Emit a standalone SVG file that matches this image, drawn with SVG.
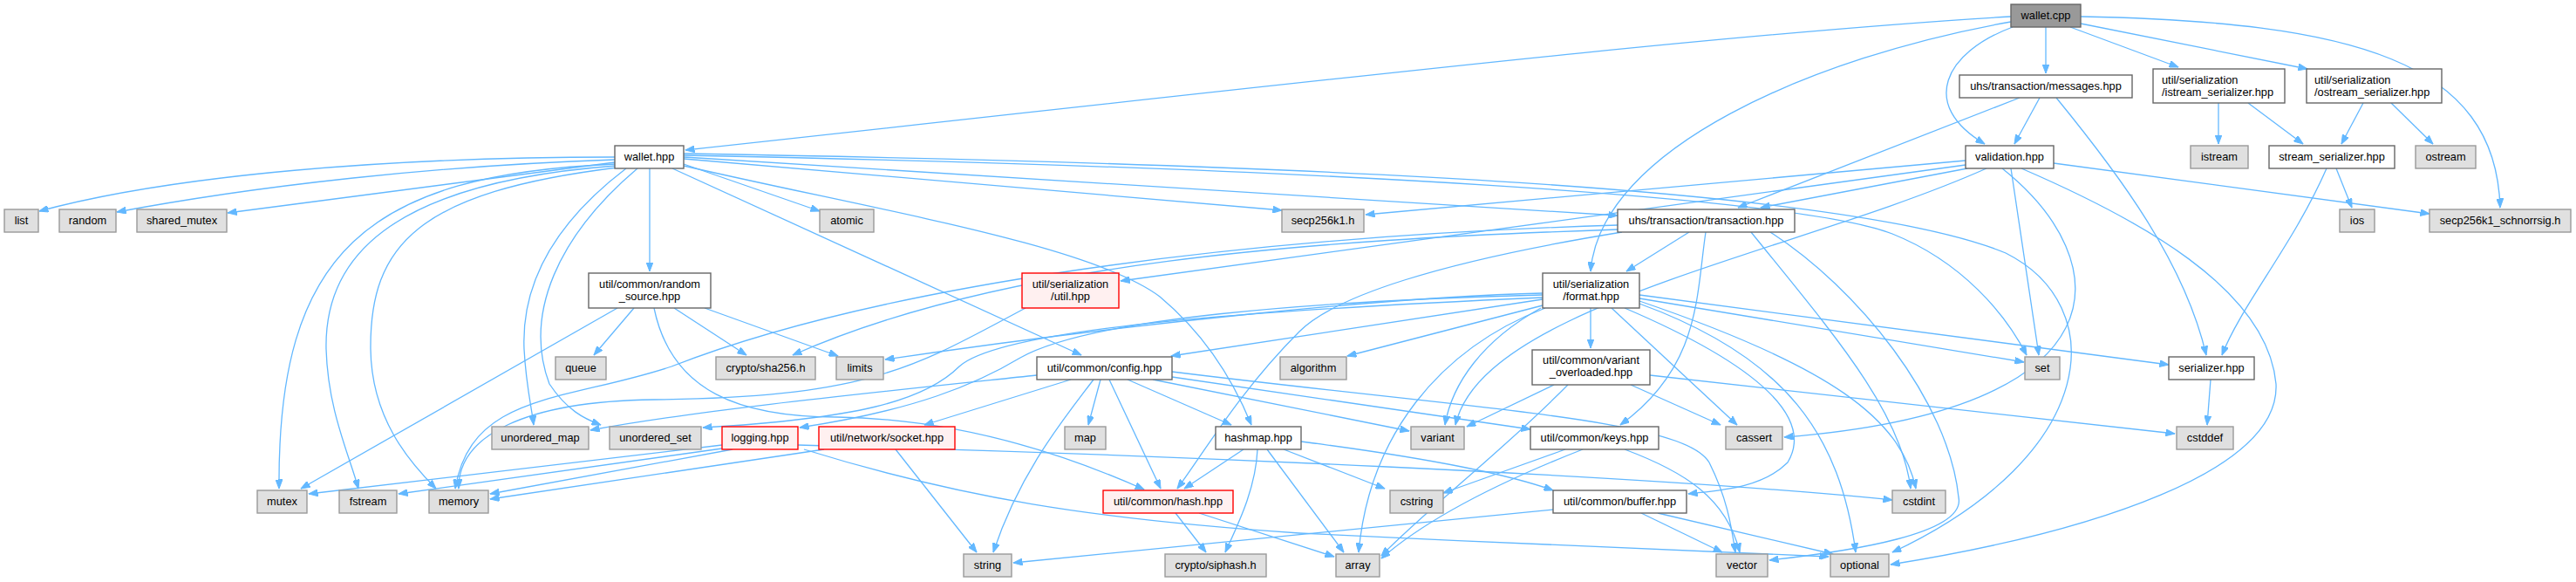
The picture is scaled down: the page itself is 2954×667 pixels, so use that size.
<svg xmlns="http://www.w3.org/2000/svg" width="2954" height="667" viewBox="0 0 2954 667">
<style>
text{font-family:"Liberation Sans",Arial,sans-serif;font-size:12.8px;fill:#000}
.c{text-anchor:middle}
.n rect{fill:#fff;stroke:#666;stroke-width:1.4}
.g rect{fill:#e0e0e0;stroke:#999;stroke-width:1.4}
.r rect{fill:#fff0f0;stroke:#f00;stroke-width:1.4}
.root rect{fill:#999;stroke:#666;stroke-width:1.4}
#edges path{fill:none;stroke:#63b8ff;stroke-width:1.3;marker-end:url(#a)}
</style>
<defs>
<marker id="a" markerWidth="11" markerHeight="8" refX="10.5" refY="4" orient="auto" markerUnits="userSpaceOnUse"><path d="M0,0 L10.5,4 L0,8 z" fill="#63b8ff" stroke="#63b8ff" stroke-width="1"/></marker>
</defs>
<rect width="2954" height="667" fill="#fff"/>
<g id="edges">
<path d="M2306,19 C1950,40 1450,100 786,172"/>
<path d="M2306,25 C2080,65 1835,170 1824,311"/>
<path d="M2346,31 L2346,84"/>
<path d="M2308,31 C2230,60 2200,120 2276,165"/>
<path d="M2374,31 L2498,77"/>
<path d="M2386,27 L2646,79"/>
<path d="M2386,19 C2700,25 2862,70 2867,238"/>
<path d="M2316,112 L1993,238"/>
<path d="M2339,112 L2310,165"/>
<path d="M2358,112 C2430,200 2505,300 2530,407"/>
<path d="M2544,118 L2544,165"/>
<path d="M2578,118 L2641,165"/>
<path d="M2710,118 L2685,165"/>
<path d="M2742,118 L2790,165"/>
<path d="M2679,193 L2697,238"/>
<path d="M2668,193 C2630,280 2570,350 2548,407"/>
<path d="M2535,435 L2531,487"/>
<path d="M2355,187 L2786,245"/>
<path d="M2256,193 L2019,238"/>
<path d="M2254,184 L1566,246"/>
<path d="M2254,189 L1285,322"/>
<path d="M2306,193 L2338,407"/>
<path d="M2278,193 C2060,290 1700,350 1669,487"/>
<path d="M2296,193 C2430,300 2440,470 2046,501"/>
<path d="M2318,193 C2450,250 2600,330 2610,440 C2615,540 2400,610 2168,647"/>
<path d="M705,180 C450,180 200,200 45,242"/>
<path d="M705,183 C500,190 300,212 134,243"/>
<path d="M705,186 L261,244"/>
<path d="M706,188 C420,200 318,290 320,560"/>
<path d="M706,190 C440,210 372,300 374,400 C376,470 400,520 411,560"/>
<path d="M708,192 C480,220 424,280 425,400 C426,480 470,530 500,560"/>
<path d="M718,193 C630,260 598,330 601,400 C603,440 610,470 612,487"/>
<path d="M731,193 C640,270 600,360 630,440 C650,470 670,480 689,487"/>
<path d="M745,193 L745,311"/>
<path d="M784,188 L940,242"/>
<path d="M771,193 L1240,407"/>
<path d="M784,190 C1000,240 1250,280 1330,340 C1390,390 1420,450 1435,487"/>
<path d="M784,182 L1470,241"/>
<path d="M784,180 L1855,247"/>
<path d="M784,178 C1500,192 2060,225 2170,268 C2250,300 2300,360 2324,407"/>
<path d="M784,176 C1500,188 2120,215 2300,290 C2420,350 2410,520 2170,633"/>
<path d="M708,353 L345,560"/>
<path d="M727,353 L681,407"/>
<path d="M773,353 L856,407"/>
<path d="M808,353 L961,408"/>
<path d="M750,353 C770,450 850,478 960,478 C1100,480 1220,520 1312,561"/>
<path d="M1176,353 C1050,420 1000,455 750,458 C600,460 525,500 526,560"/>
<path d="M1855,258 C1400,272 1000,330 770,420 C650,460 540,450 522,560"/>
<path d="M1855,263 C1500,275 1150,300 909,407"/>
<path d="M1937,266 L1865,311"/>
<path d="M1956,266 C1945,340 1950,420 1858,487"/>
<path d="M1860,266 C1650,300 1530,340 1490,380 C1420,450 1380,520 1350,560"/>
<path d="M2008,266 C2100,380 2180,470 2191,560"/>
<path d="M2030,266 C2130,330 2235,460 2246,570 C2255,612 2120,632 2029,642"/>
<path d="M1769,336 C1600,340 1300,370 1015,412"/>
<path d="M1769,343 L1343,408"/>
<path d="M1769,350 L1545,408"/>
<path d="M1769,338 C1500,345 1250,365 1170,410 C1120,440 1050,470 917,490"/>
<path d="M1769,341 C1450,355 1150,375 1100,420 C1060,460 980,480 806,490"/>
<path d="M1824,353 L1824,399"/>
<path d="M1767,353 C1700,390 1665,440 1657,487"/>
<path d="M1772,353 C1650,400 1570,500 1558,633"/>
<path d="M1848,353 L1992,487"/>
<path d="M1863,353 C2020,420 2080,480 2050,530 C2020,560 1970,562 1936,566"/>
<path d="M1880,348 C2050,410 2110,500 2128,633"/>
<path d="M1880,345 C2100,420 2180,480 2197,560"/>
<path d="M1880,342 L2321,415"/>
<path d="M1880,338 L2487,418"/>
<path d="M1189,430 C1000,450 800,470 677,493"/>
<path d="M1228,435 L1060,487"/>
<path d="M1254,435 C1220,480 1170,540 1139,633"/>
<path d="M1262,435 L1248,487"/>
<path d="M1272,435 L1331,560"/>
<path d="M1293,435 L1412,487"/>
<path d="M1322,435 L1616,494"/>
<path d="M1344,432 L1755,492"/>
<path d="M1344,426 C1700,470 1930,480 1960,530 C1980,570 1985,600 1990,633"/>
<path d="M828,510 L354,566"/>
<path d="M828,514 L457,566"/>
<path d="M840,515 L562,566"/>
<path d="M915,510 C1300,520 1900,545 2170,573"/>
<path d="M922,515 C1100,570 1250,595 1490,611 C1700,622 1950,630 2097,638"/>
<path d="M945,515 L562,572"/>
<path d="M1027,515 L1120,633"/>
<path d="M1426,515 L1358,560"/>
<path d="M1442,515 C1440,560 1420,600 1405,633"/>
<path d="M1453,515 L1541,633"/>
<path d="M1472,515 L1588,560"/>
<path d="M1492,506 C1600,520 1720,540 1781,562"/>
<path d="M1348,588 L1383,633"/>
<path d="M1375,588 L1530,638"/>
<path d="M1782,441 L1682,489"/>
<path d="M1798,441 C1720,520 1640,580 1584,637"/>
<path d="M1870,441 L1973,487"/>
<path d="M1892,430 L2494,497"/>
<path d="M1795,515 L1655,565"/>
<path d="M1815,515 C1700,560 1630,600 1584,640"/>
<path d="M1863,515 C1930,540 1980,570 1995,633"/>
<path d="M1781,584 L1162,645"/>
<path d="M1882,588 L1975,633"/>
<path d="M1901,588 L2102,635"/>
</g>
<g id="wallet_cpp" class="root"><rect x="2306" y="5" width="80" height="26"/><text class="c" x="2346" y="22">wallet.cpp</text></g>
<g id="messages" class="n"><rect x="2247" y="86" width="198" height="26"/><text class="c" x="2346" y="103">uhs/transaction/messages.hpp</text></g>
<g id="istream_serializer" class="n"><rect x="2469" y="79" width="151" height="39"/><text x="2479" y="96">util/serialization</text><text x="2479" y="110">/istream_serializer.hpp</text></g>
<g id="ostream_serializer" class="n"><rect x="2645" y="79" width="155" height="39"/><text x="2654" y="96">util/serialization</text><text x="2654" y="110">/ostream_serializer.hpp</text></g>
<g id="wallet_hpp" class="n"><rect x="705" y="167" width="79" height="26"/><text class="c" x="744.5" y="184">wallet.hpp</text></g>
<g id="validation" class="n"><rect x="2254" y="167" width="101" height="26"/><text class="c" x="2304.5" y="184">validation.hpp</text></g>
<g id="istream" class="g"><rect x="2512" y="167" width="66" height="26"/><text class="c" x="2545" y="184">istream</text></g>
<g id="stream_serializer" class="n"><rect x="2602" y="167" width="144" height="26"/><text class="c" x="2674" y="184">stream_serializer.hpp</text></g>
<g id="ostream" class="g"><rect x="2770" y="167" width="69" height="26"/><text class="c" x="2804.5" y="184">ostream</text></g>
<g id="list" class="g"><rect x="5" y="240" width="39" height="26"/><text class="c" x="24.5" y="257">list</text></g>
<g id="random" class="g"><rect x="68" y="240" width="65" height="26"/><text class="c" x="100.5" y="257">random</text></g>
<g id="shared_mutex" class="g"><rect x="157" y="240" width="103" height="26"/><text class="c" x="208.5" y="257">shared_mutex</text></g>
<g id="atomic" class="g"><rect x="940" y="240" width="62" height="26"/><text class="c" x="971" y="257">atomic</text></g>
<g id="secp256k1" class="g"><rect x="1470" y="240" width="94" height="26"/><text class="c" x="1517" y="257">secp256k1.h</text></g>
<g id="transaction" class="n"><rect x="1855" y="240" width="203" height="26"/><text class="c" x="1956.5" y="257">uhs/transaction/transaction.hpp</text></g>
<g id="ios" class="g"><rect x="2683" y="240" width="40" height="26"/><text class="c" x="2703" y="257">ios</text></g>
<g id="schnorrsig" class="g"><rect x="2786" y="240" width="162" height="26"/><text class="c" x="2867" y="257">secp256k1_schnorrsig.h</text></g>
<g id="random_source" class="n"><rect x="675" y="313" width="140" height="40"/><text class="c" x="745" y="330">util/common/random</text><text class="c" x="745" y="344">_source.hpp</text></g>
<g id="util_hpp" class="r"><rect x="1172" y="313" width="111" height="40"/><text class="c" x="1227.5" y="330">util/serialization</text><text class="c" x="1227.5" y="344">/util.hpp</text></g>
<g id="format" class="n"><rect x="1769" y="313" width="111" height="40"/><text class="c" x="1824.5" y="330">util/serialization</text><text class="c" x="1824.5" y="344">/format.hpp</text></g>
<g id="queue" class="g"><rect x="637" y="409" width="58" height="26"/><text class="c" x="666" y="426">queue</text></g>
<g id="sha256" class="g"><rect x="821" y="409" width="114" height="26"/><text class="c" x="878" y="426">crypto/sha256.h</text></g>
<g id="limits" class="g"><rect x="959" y="409" width="54" height="26"/><text class="c" x="986" y="426">limits</text></g>
<g id="config" class="n"><rect x="1189" y="409" width="155" height="26"/><text class="c" x="1266.5" y="426">util/common/config.hpp</text></g>
<g id="algorithm" class="g"><rect x="1468" y="409" width="76" height="26"/><text class="c" x="1506" y="426">algorithm</text></g>
<g id="variant_overloaded" class="n"><rect x="1757" y="401" width="135" height="40"/><text class="c" x="1824.5" y="417">util/common/variant</text><text class="c" x="1824.5" y="431">_overloaded.hpp</text></g>
<g id="set" class="g"><rect x="2322" y="409" width="40" height="26"/><text class="c" x="2342" y="426">set</text></g>
<g id="serializer" class="n"><rect x="2487" y="409" width="98" height="26"/><text class="c" x="2536" y="426">serializer.hpp</text></g>
<g id="unordered_map" class="g"><rect x="564" y="489" width="111" height="26"/><text class="c" x="619.5" y="506">unordered_map</text></g>
<g id="unordered_set" class="g"><rect x="699" y="489" width="105" height="26"/><text class="c" x="751.5" y="506">unordered_set</text></g>
<g id="logging" class="r"><rect x="828" y="489" width="87" height="26"/><text class="c" x="871.5" y="506">logging.hpp</text></g>
<g id="socket" class="r"><rect x="939" y="489" width="156" height="26"/><text class="c" x="1017" y="506">util/network/socket.hpp</text></g>
<g id="map" class="g"><rect x="1221" y="489" width="47" height="26"/><text class="c" x="1244.5" y="506">map</text></g>
<g id="hashmap" class="n"><rect x="1394" y="489" width="98" height="26"/><text class="c" x="1443" y="506">hashmap.hpp</text></g>
<g id="variant" class="g"><rect x="1618" y="489" width="61" height="26"/><text class="c" x="1648.5" y="506">variant</text></g>
<g id="keys" class="n"><rect x="1755" y="489" width="147" height="26"/><text class="c" x="1828.5" y="506">util/common/keys.hpp</text></g>
<g id="cassert" class="g"><rect x="1979" y="489" width="65" height="26"/><text class="c" x="2011.5" y="506">cassert</text></g>
<g id="cstddef" class="g"><rect x="2496" y="489" width="65" height="26"/><text class="c" x="2528.5" y="506">cstddef</text></g>
<g id="mutex" class="g"><rect x="295" y="562" width="57" height="26"/><text class="c" x="323.5" y="579">mutex</text></g>
<g id="fstream" class="g"><rect x="389" y="562" width="66" height="26"/><text class="c" x="422" y="579">fstream</text></g>
<g id="memory" class="g"><rect x="492" y="562" width="68" height="26"/><text class="c" x="526" y="579">memory</text></g>
<g id="hash" class="r"><rect x="1265" y="562" width="149" height="26"/><text class="c" x="1339.5" y="579">util/common/hash.hpp</text></g>
<g id="cstring" class="g"><rect x="1594" y="562" width="61" height="26"/><text class="c" x="1624.5" y="579">cstring</text></g>
<g id="buffer" class="n"><rect x="1781" y="562" width="153" height="26"/><text class="c" x="1857.5" y="579">util/common/buffer.hpp</text></g>
<g id="cstdint" class="g"><rect x="2170" y="562" width="61" height="26"/><text class="c" x="2200.5" y="579">cstdint</text></g>
<g id="string" class="g"><rect x="1105" y="635" width="55" height="26"/><text class="c" x="1132.5" y="652">string</text></g>
<g id="siphash" class="g"><rect x="1336" y="635" width="116" height="26"/><text class="c" x="1394" y="652">crypto/siphash.h</text></g>
<g id="array" class="g"><rect x="1532" y="635" width="50" height="26"/><text class="c" x="1557" y="652">array</text></g>
<g id="vector" class="g"><rect x="1968" y="635" width="59" height="26"/><text class="c" x="1997.5" y="652">vector</text></g>
<g id="optional" class="g"><rect x="2099" y="635" width="67" height="26"/><text class="c" x="2132.5" y="652">optional</text></g>
</svg>
